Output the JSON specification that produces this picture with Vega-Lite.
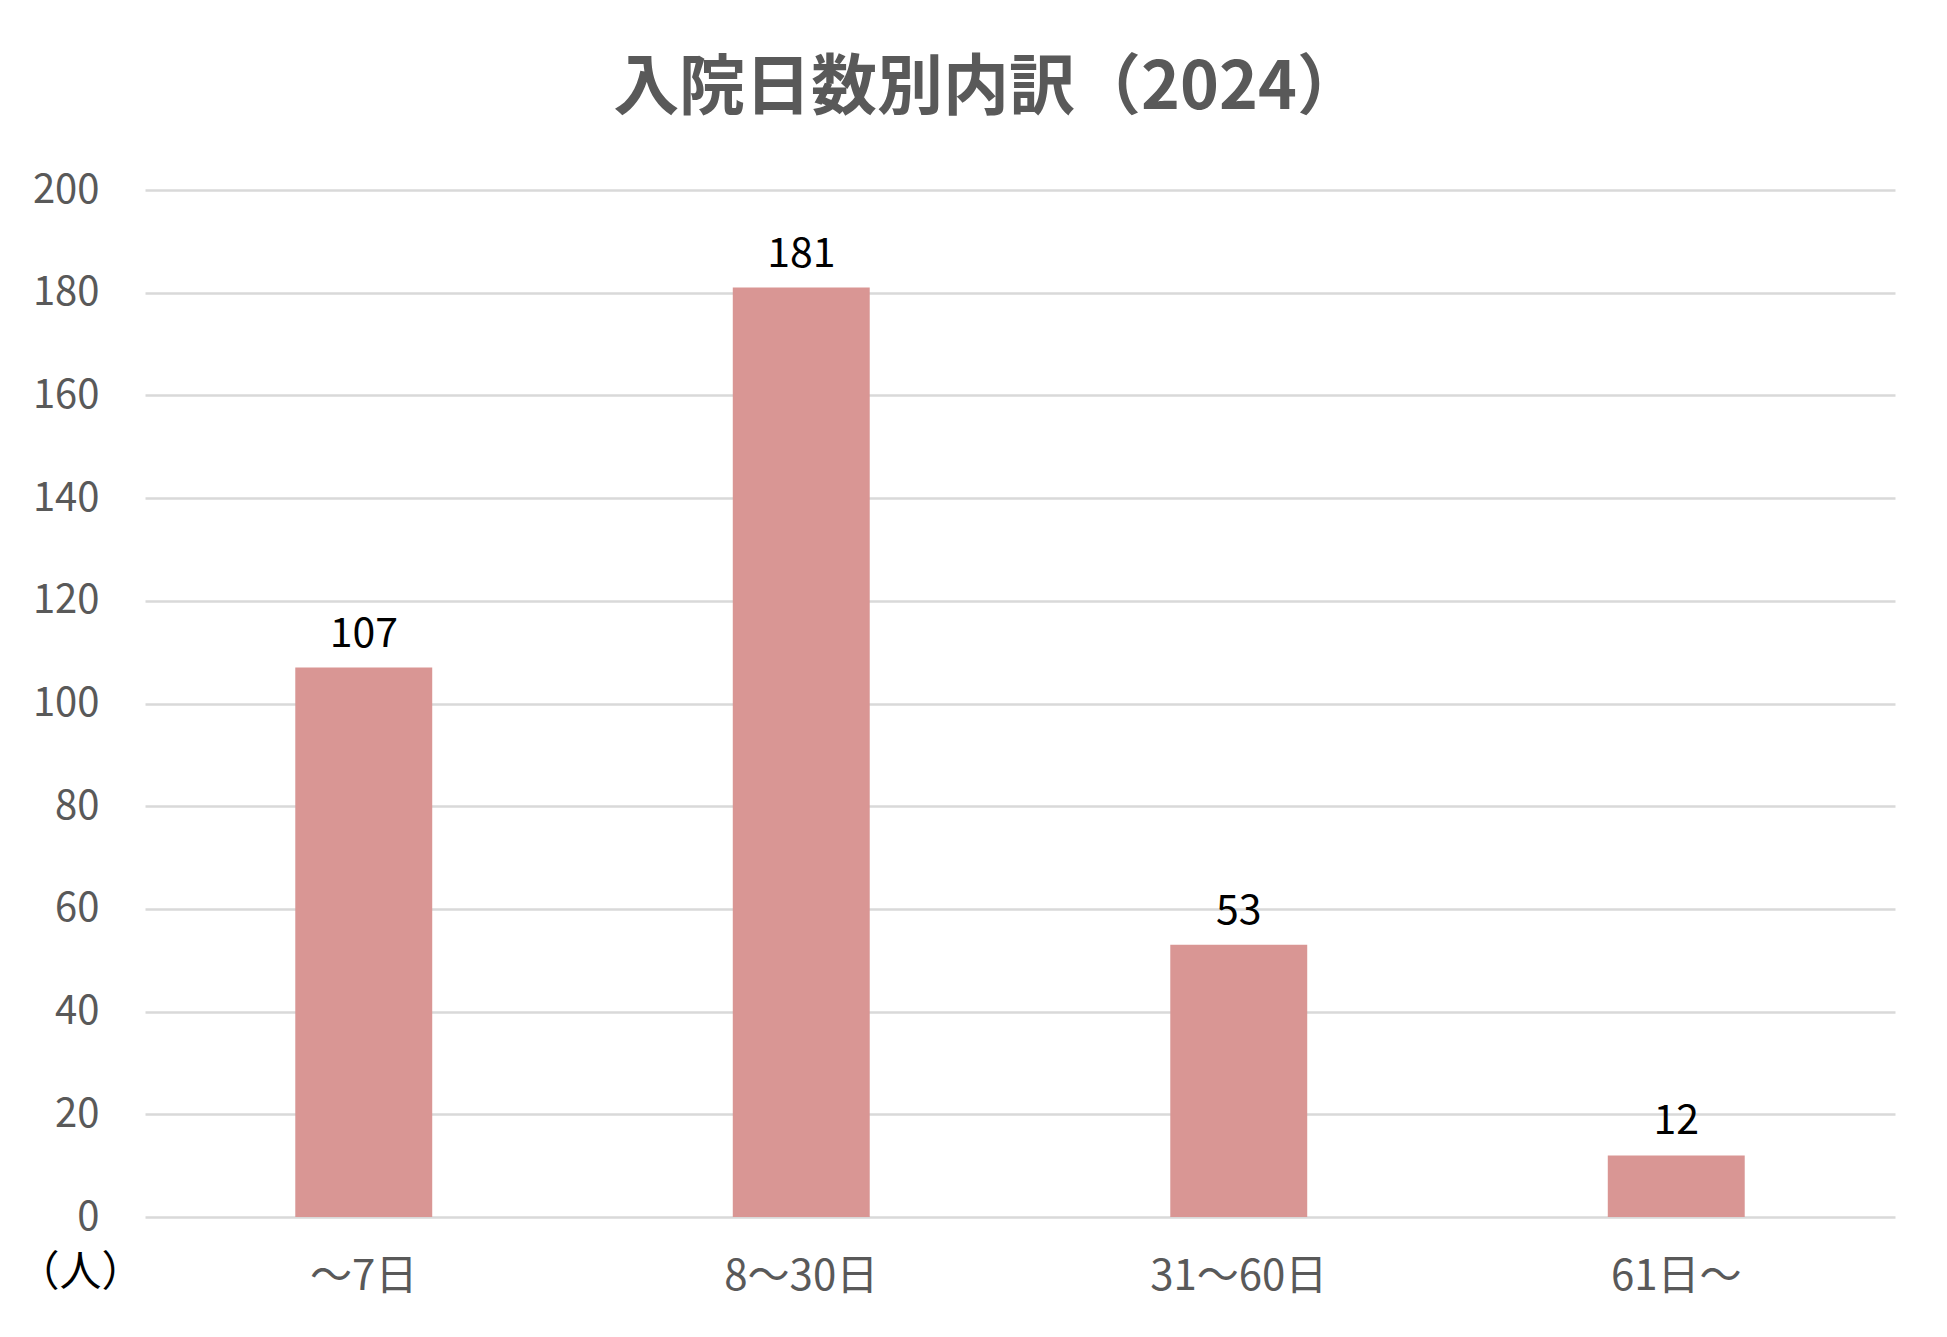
{
  "$schema": "https://vega.github.io/schema/vega-lite/v6.json",
  "width": 1750,
  "height": 1027,
  "autosize": {"type": "none"},
  "padding": {"left": 145, "top": 190, "right": 52, "bottom": 120},
  "background": "white",
  "title": {
    "text": "入院日数別内訳（2024）",
    "font": "Noto Sans CJK JP",
    "fontSize": 66,
    "fontWeight": "bold",
    "color": "#595959",
    "anchor": "middle",
    "frame": "group",
    "baseline": "middle",
    "dx": -32,
    "offset": 15
  },
  "config": {
    "view": {"stroke": null},
    "font": "Noto Sans CJK JP"
  },
  "data": {
    "values": [
      {"days": "～7日", "count": 107},
      {"days": "8～30日", "count": 181},
      {"days": "31～60日", "count": 53},
      {"days": "61日～", "count": 12}
    ]
  },
  "encoding": {
    "x": {
      "field": "days",
      "type": "nominal",
      "sort": null,
      "scale": {"paddingInner": 0.687, "paddingOuter": 0.3435},
      "axis": {
        "title": null,
        "labelAngle": 0,
        "labelFontSize": 42,
        "labelColor": "#595959",
        "labelPadding": 39,
        "ticks": false,
        "domain": false
      }
    },
    "y": {
      "field": "count",
      "type": "quantitative",
      "scale": {"domain": [0, 200]},
      "axis": {
        "values": [0, 20, 40, 60, 80, 100, 120, 140, 160, 180, 200],
        "title": "（人）",
        "titleAngle": 0,
        "titleX": -65,
        "titleY": 1082,
        "titleAlign": "center",
        "titleBaseline": "middle",
        "titleColor": "black",
        "titleFontSize": 42,
        "titleFontWeight": "normal",
        "labelFontSize": 40,
        "labelColor": "#595959",
        "labelPadding": 46,
        "ticks": false,
        "domain": false,
        "gridColor": "#d9d9d9",
        "gridWidth": 2.5
      }
    }
  },
  "layer": [
    {"mark": {"type": "bar", "color": "#D99694"}},
    {
      "mark": {"type": "text", "fontSize": 41, "color": "black", "baseline": "alphabetic", "dy": -21},
      "encoding": {"text": {"field": "count", "type": "quantitative"}}
    }
  ]
}
